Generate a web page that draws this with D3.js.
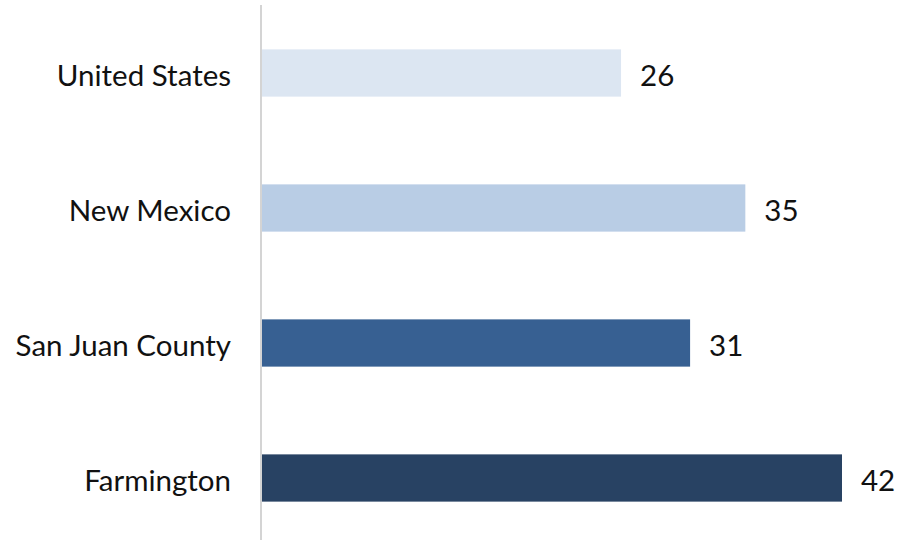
<!DOCTYPE html>
<html>
<head>
<meta charset="utf-8">
<script src="https://cdn.jsdelivr.net/npm/d3@7"></script>
<style>
  html, body { margin: 0; padding: 0; background: #ffffff; }
  svg { display: block; }
  text { font-family: Lato, "Open Sans", sans-serif; fill: #111111; }
</style>
</head>
<body>
<svg id="chart" width="899" height="540"></svg>
<script>
// Areas compared, top to bottom
const categories = ["United States", "New Mexico", "San Juan County", "Farmington"];
// Value for each area
const values = [26, 35, 31, 42];
// Fill colour for each bar
const barColors = ["#dce6f2", "#b9cde5", "#376092", "#284263"];

const width = 899, height = 540;
const fontSize = 29.5;
const svg = d3.select("#chart");

const x = d3.scaleLinear().domain([0, 42]).range([262, 842]);
const y = d3.scaleBand()
  .domain(categories)
  .range([5.5, 545.5])
  .paddingInner(0.65)
  .paddingOuter(0.325);

// Bars
svg.append("g")
  .selectAll("rect")
  .data(categories)
  .join("rect")
  .attr("x", x(0))
  .attr("y", d => y(d))
  .attr("width", (d, i) => x(values[i]) - x(0))
  .attr("height", y.bandwidth())
  .attr("fill", (d, i) => barColors[i]);

// Category axis on the left
const yAxis = d3.axisLeft(y).tickSize(0).tickPadding(30);
const gy = svg.append("g")
  .attr("transform", `translate(${x(0) - 1},0)`)
  .call(yAxis);
gy.select(".domain").remove();
gy.selectAll("text")
  .attr("font-size", fontSize)
  .attr("font-family", "Lato, 'Open Sans', sans-serif")
  .attr("fill", "#111111")
  .attr("dy", "0.45em");

// Vertical baseline
svg.append("line")
  .attr("x1", x(0) - 1).attr("x2", x(0) - 1)
  .attr("y1", 5).attr("y2", height)
  .attr("stroke", "#d4d4d4")
  .attr("stroke-width", 2);

// Value labels at bar ends
svg.append("g")
  .selectAll("text")
  .data(categories)
  .join("text")
  .attr("x", (d, i) => x(values[i]) + 19)
  .attr("y", d => y(d) + y.bandwidth() / 2)
  .attr("dy", "0.45em")
  .attr("font-size", fontSize)
  .text((d, i) => values[i]);
</script>
</body>
</html>
